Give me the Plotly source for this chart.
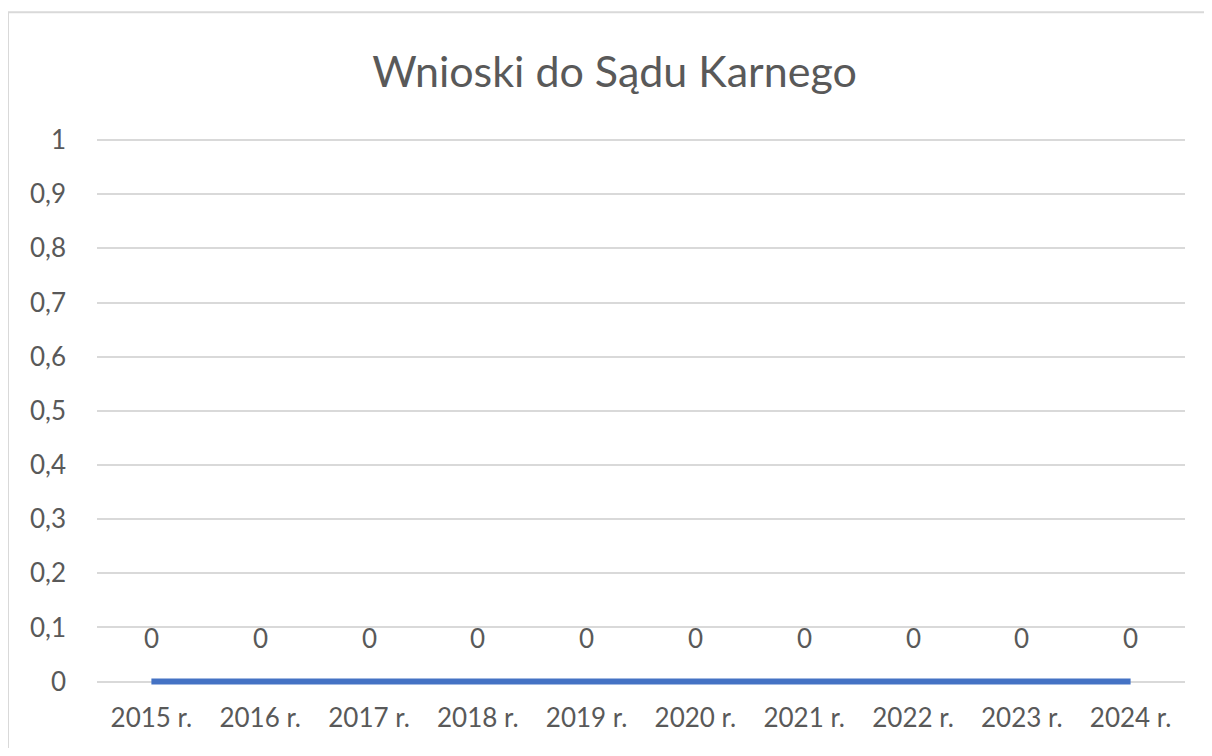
import plotly.graph_objects as go

categories = ["2015 r.", "2016 r.", "2017 r.", "2018 r.", "2019 r.",
              "2020 r.", "2021 r.", "2022 r.", "2023 r.", "2024 r."]
values = [0, 0, 0, 0, 0, 0, 0, 0, 0, 0]
y_ticks = [0, 0.1, 0.2, 0.3, 0.4, 0.5, 0.6, 0.7, 0.8, 0.9, 1]
y_tick_labels = ["0", "0,1", "0,2", "0,3", "0,4", "0,5", "0,6", "0,7", "0,8", "0,9", "1"]
title = "Wnioski do Sądu Karnego"

OFF = 8  # page body margin
W, H = 1212 - OFF, 756 - 2 * OFF
Y_LO, Y_HI = -0.01, 1.002
UNIT = 542  # pixels per 1.0 on the value axis
top_px = 140 - (Y_HI - 1) * UNIT
bot_px = 682 - Y_LO * UNIT
L = 97 - OFF
R = W - (1185 - OFF)
T = top_px - OFF
B = H - (bot_px - OFF)
pw, ph = W - L - R, H - T - B
FONT = "Lato, 'Open Sans', sans-serif"
GRAY = "#595959"
FS = 26

fig = go.Figure()
fig.add_trace(go.Scatter(
    x=list(range(len(categories))), y=values, mode="lines",
    line=dict(color="#4472C4", width=6),
    hoverinfo="skip", showlegend=False,
))

for i, v in enumerate(values):
    fig.add_annotation(x=i, y=v, text=str(v).replace(".", ","), showarrow=False,
                       yshift=44, font=dict(family=FONT, size=FS, color=GRAY))

# chart border (Excel chart area)
fig.add_shape(type="rect", xref="paper", yref="paper",
              x0=(0 - L) / pw, x1=(W + 20 - L) / pw,
              y0=-(H + 20 - T - ph) / ph, y1=(H - 4 - B) / ph,
              line=dict(color="#D9D9D9", width=2), layer="below")

fig.update_layout(
    width=W, height=H,
    margin=dict(l=L, r=R, t=T, b=B, pad=0),
    paper_bgcolor="white", plot_bgcolor="white",
    title=dict(text=title, x=(614.5 - OFF) / W, xref="container", xanchor="center",
               y=1 - (72 - OFF) / H, yanchor="middle",
               font=dict(family=FONT, size=43, color=GRAY)),
    font=dict(family=FONT, size=FS, color=GRAY),
    xaxis=dict(range=[-0.5, len(categories) - 0.5], tickmode="array",
               tickvals=list(range(len(categories))), ticktext=categories,
               showgrid=False, zeroline=False, showline=False, ticks="",
               ticklen=0, ticklabelstandoff=13,
               tickfont=dict(family=FONT, size=FS, color=GRAY)),
    yaxis=dict(range=[Y_LO, Y_HI], tickmode="array", tickvals=y_ticks, ticktext=y_tick_labels,
               showgrid=True, gridcolor="#D9D9D9", gridwidth=2,
               zeroline=False, showline=False, ticks="", ticklabelstandoff=30,
               tickfont=dict(family=FONT, size=FS, color=GRAY)),
)

fig.write_html("out.html")
